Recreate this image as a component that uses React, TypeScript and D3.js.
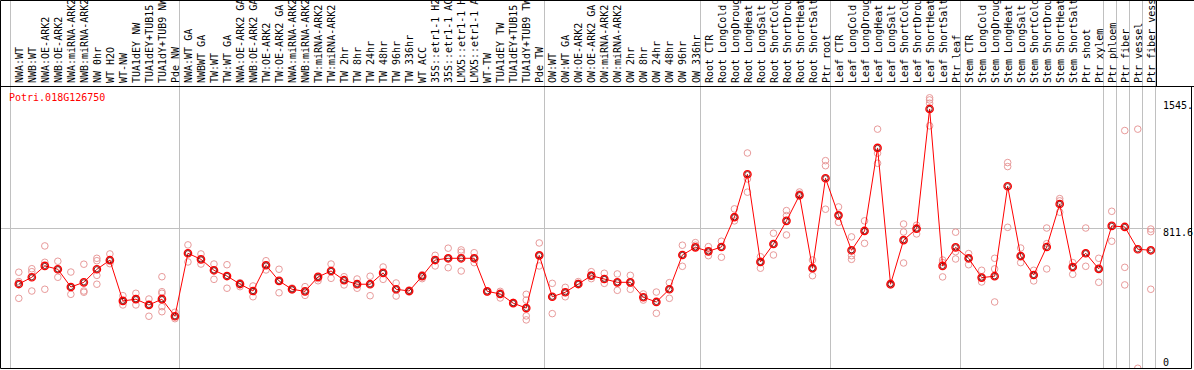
import React, { useEffect, useRef } from "react";
import * as d3 from "d3";

// sample names, left to right
const categories = [
  "NWA:WT", "NWB:WT", "NWA:OE-ARK2", "NWB:OE-ARK2", "NWA:miRNA-ARK2", "NWB:miRNA-ARK2",
  "NW 0hr", "WT H2O", "WT-NW", "TUA1dEY NW", "TUA1dEY+TUB15 NW", "TUA1dY+TUB9 NW", "Pde NW",
  "NWA:WT GA", "NWBWT GA", "TW:WT", "TW:WT GA", "NWA:OE-ARK2 GA", "NWB:OE-ARK2 GA", "TW:OE-ARK2",
  "TW:OE-ARK2 GA", "NWA:miRNA-ARK2 GA", "NWB:miRNA-ARK2 GA", "TW:miRNA-ARK2", "TW:miRNA-ARK2 GA",
  "TW 2hr", "TW 8hr", "TW 24hr", "TW 48hr", "TW 96hr", "TW 336hr", "WT ACC",
  "35S::etr1-1 H2O", "35S::etr1-1 ACC", "LMX5::etr1-1 H2O", "LMX5::etr1-1 ACC",
  "WT-TW", "TUA1dEY TW", "TUA1dEY+TUB15 TW", "TUA1dY+TUB9 TW", "Pde TW",
  "OW:WT", "OW:WT GA", "OW:OE-ARK2", "OW:OE-ARK2 GA", "OW:miRNA-ARK2", "OW:miRNA-ARK2 GA",
  "OW 2hr", "OW 8hr", "OW 24hr", "OW 48hr", "OW 96hr", "OW 336hr",
  "Root CTR", "Root LongCold", "Root LongDrought", "Root LongHeat", "Root LongSalt",
  "Root ShortCold", "Root ShortDrought", "Root ShortHeat", "Root ShortSalt", "Ptr root",
  "Leaf CTR", "Leaf LongCold", "Leaf LongDrought", "Leaf LongHeat", "Leaf LongSalt",
  "Leaf ShortCold", "Leaf ShortDrought", "Leaf ShortHeat", "Leaf ShortSalt", "Ptr leaf",
  "Stem CTR", "Stem LongCold", "Stem LongDrought", "Stem LongHeat", "Stem LongSalt",
  "Stem ShortCold", "Stem ShortDrought", "Stem ShortHeat", "Stem ShortSalt", "Ptr shoot", "Ptr xylem",
  "Ptr phloem", "Ptr fiber", "Ptr vessel", "Ptr fiber vessel",
];

// index where each study group starts (grey separators)
const groupStarts = [0, 13, 41, 53, 63, 73, 84, 85, 86, 87, 88];

const means = [
  491, 530, 595, 576, 474, 501, 576, 628, 394, 404, 371, 404, 306,
  668, 633, 570, 537, 491, 451, 599, 509, 461, 449, 532, 566, 513, 490, 490, 555, 461, 451, 536,
  629, 639, 639, 639, 449, 434, 381, 353, 656,
  418, 444, 491, 539, 520, 501, 501, 415, 388, 461, 658, 702,
  679, 704, 875, 1122, 618, 721, 854, 1001, 582, 1099,
  886, 685, 796, 1273, 490, 743, 809, 1497, 595, 702,
  639, 528, 536, 1053, 652, 543, 704, 951, 589, 668, 578,
  825, 819, 691, 685,
];

const replicates = [
  [559, 505, 409], [579, 562, 451], [710, 616, 461], [622, 530, 576], [560, 474, 432],
  [605, 451, 444], [639, 625, 541, 490], [664, 628, 608], [424, 394, 371], [438, 404, 371],
  [405, 371, 306], [533, 447, 438, 361, 332], [329, 306, 292],
  [716, 668, 618], [664, 633, 606], [606, 570, 518], [602, 537, 467], [499, 491, 476],
  [480, 451, 418], [625, 599, 572], [576, 509, 441], [468, 461, 457], [476, 449, 426],
  [522, 532, 510], [606, 566, 524], [533, 513, 486], [520, 490, 467], [536, 490, 424],
  [589, 555, 518], [497, 461, 422], [457, 451, 445], [545, 536, 522],
  [656, 629, 595], [697, 639, 585], [687, 674, 566], [671, 639, 614],
  [449, 445], [449, 434, 411], [386, 381], [432, 399, 308, 285], [727, 656, 595],
  [495, 418, 321], [472, 444, 418], [505, 491, 495], [562, 539, 522], [553, 520, 495],
  [549, 501, 455], [541, 501, 461], [434, 415, 399], [445, 388, 323], [499, 461, 409],
  [714, 658, 593], [729, 714, 702],
  [706, 679, 654], [737, 704, 645], [923, 875, 854], [1244, 1095, 1019], [648, 618, 582],
  [783, 721, 658], [913, 884, 773], [1020, 1009, 1001], [629, 582, 539], [1200, 1171, 921],
  [934, 886, 846], [762, 654, 633], [854, 796, 725], [1381, 1243, 1185], [497, 490, 486],
  [836, 790, 612], [829, 809, 779], [1561, 1549, 1530, 1400], [629, 614, 532], [789, 677, 635],
  [666, 639, 602], [570, 528, 503], [639, 578, 388], [1189, 1166, 817], [698, 652, 614],
  [570, 543, 509], [813, 723, 578], [982, 969, 904], [614, 589, 547], [813, 668, 593],
  [639, 578, 501],
  [909, 737], [1373, 587, 486], [1381, 7], [807, 792, 461],
];

const tickValues = [1545, 811.6, 0];
const tickLabels = ["1545.", "811.6", "0"];
const geneId = "Potri.018G126750";

const W = 1194;
const H = 370;
const font = "'DejaVu Sans Mono', monospace";

export default function App() {
  const ref = useRef<SVGSVGElement>(null);

  useEffect(() => {
    const svg = d3.select(ref.current);
    svg.selectAll("*").remove();

    const x = d3.scaleBand<number>()
      .domain(d3.range(categories.length))
      .range([10.3, 1155.3]);
    const px = (i: number) => (x(i) as number) + 8.5;

    const y = d3.scaleLinear().domain([0, 1623.2]).range([369.5, 87]);

    svg.append("rect").attr("width", W).attr("height", H).attr("fill", "#fff");

    // grey separators between studies
    svg.append("g").selectAll("line")
      .data(groupStarts)
      .join("line")
      .attr("x1", d => Math.round(10.3 + d * x.step()) + 0.5)
      .attr("x2", d => Math.round(10.3 + d * x.step()) + 0.5)
      .attr("y1", 0)
      .attr("y2", 369)
      .attr("stroke", "#c0c0c0");

    // mid gridline
    svg.append("line")
      .attr("x1", 1).attr("x2", 1161)
      .attr("y1", Math.round(y(811.6)) + 0.5).attr("y2", Math.round(y(811.6)) + 0.5)
      .attr("stroke", "#c0c0c0");

    // frame
    svg.append("path")
      .attr("d", `M0.5,0.5H${W}M0.5,0.5V368.5H1191.5V86.5M0.5,86.5H${W}M1156.5,0.5V86.5`)
      .attr("fill", "none")
      .attr("stroke", "#000");

    // rotated sample labels, clipped to the header box like the original
    svg.append("clipPath").attr("id", "hdr")
      .append("rect").attr("x", 0).attr("y", 1).attr("width", 1156).attr("height", 85);
    svg.append("g").attr("clip-path", "url(#hdr)")
      .selectAll("text")
      .data(categories)
      .join("text")
      .attr("transform", (d, i) => `translate(${px(i) + 0.5},83) rotate(-90)`)
      .attr("dy", "0.36em")
      .style("font-family", font)
      .style("font-size", "10px")
      .attr("fill", "#000")
      .text(d => d);

    // value labels on the right
    svg.append("g").selectAll("text")
      .data(tickValues)
      .join("text")
      .attr("x", 1163)
      .attr("y", d => d === 0 ? 366 : y(d) + 8)
      .style("font-family", font)
      .style("font-size", "10px")
      .attr("fill", "#000")
      .text((d, i) => tickLabels[i]);

    svg.append("text")
      .attr("x", 9).attr("y", 101)
      .style("font-family", font)
      .style("font-size", "10px")
      .attr("fill", "#ff0000")
      .text(geneId);

    const plot = svg.append("g");
    plot.append("clipPath").attr("id", "plot")
      .append("rect").attr("x", 1).attr("y", 87).attr("width", 1190).attr("height", 281);
    const inner = plot.append("g").attr("clip-path", "url(#plot)");

    const reps = replicates.flatMap((vals, i) => vals.map(v => ({ i, v })));
    inner.append("g").selectAll("circle")
      .data(reps)
      .join("circle")
      .attr("cx", d => px(d.i))
      .attr("cy", d => y(d.v))
      .attr("r", 3.3)
      .attr("fill", "none")
      .attr("stroke", "#e89a9a")
      .attr("stroke-width", 1);

    const line = d3.line<number>()
      .x((d, i) => px(i))
      .y(d => y(d));
    inner.append("path")
      .datum(means)
      .attr("d", line)
      .attr("fill", "none")
      .attr("stroke", "#ff0000")
      .attr("stroke-width", 1);

    // mean markers: red ring with a dark inner edge
    const mk = inner.append("g").selectAll("g")
      .data(means)
      .join("g")
      .attr("transform", (d, i) => `translate(${px(i)},${y(d)})`);
    mk.append("circle")
      .attr("r", 3.7)
      .attr("fill", "none")
      .attr("stroke", "#ff0000")
      .attr("stroke-width", 1.3);
    mk.append("circle")
      .attr("r", 2.6)
      .attr("fill", "none")
      .attr("stroke", "#5a0000")
      .attr("stroke-width", 0.8);
  }, []);

  return (
    <svg
      ref={ref}
      width={W}
      height={H}
      style={{ position: "fixed", left: 0, top: 0, display: "block" }}
    />
  );
}
